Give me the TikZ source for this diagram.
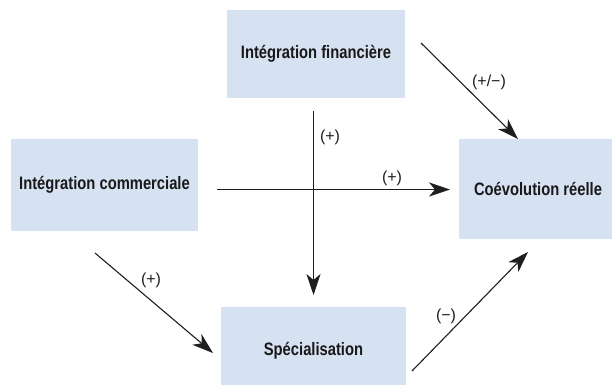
\documentclass[tikz,border=0pt]{standalone}
\usepackage{fontspec}
\setmainfont{Liberation Sans}
\newfontfamily\boxfont[FakeStretch=0.82]{Liberation Sans}
\newfontfamily\lblfont{Liberation Sans}
\usetikzlibrary{arrows.meta}
\definecolor{boxblue}{RGB}{214,226,242}
\definecolor{inkline}{RGB}{30,30,30}
\tikzset{
  boxnode/.style={fill=boxblue, draw=none, inner sep=0pt, font=\boxfont\fontsize{18}{21}\selectfont\bfseries, text=black!90},
  arr/.style={draw=inkline, line width=1.1pt, -{Stealth[length=21pt,width=14pt,inset=6pt]}},
  lbl/.style={font=\lblfont\fontsize{16}{19}\selectfont, text=inkline, inner sep=0pt}
}
\begin{document}
\begin{tikzpicture}[x=1pt,y=-1pt]
\useasboundingbox (0,0) rectangle (612,384);
\node[boxnode, minimum width=178pt, minimum height=88pt] (fin) at (316,54) {Intégration financière};
\node[boxnode, minimum width=187pt, minimum height=92pt] (com) at (104.5,185) {Intégration commerciale};
\node[boxnode, minimum width=158pt, minimum height=100pt] (coe) at (538,189) {Coévolution réelle};
\node[boxnode, minimum width=185pt, minimum height=88pt] (spe) at (313.5,351) {Spécialisation};
% connector end points
\coordinate (v1) at (313.5,111);
\coordinate (v2) at (313.5,295);
\coordinate (h1) at (217,189.5);
\coordinate (h2) at (450,189.5);
\coordinate (d1) at (421,43);
\coordinate (d2) at (518,139);
\coordinate (l1) at (95,253);
\coordinate (l2) at (213,353);
\coordinate (r1) at (412,371);
\coordinate (r2) at (528,252);
\draw[arr] (v1) -- (v2);
\draw[arr] (h1) -- (h2);
\draw[arr] (d1) -- (d2);
\draw[arr] (l1) -- (l2);
\draw[arr] (r1) -- (r2);
\node[lbl] (lv) at (330,137) {(+)};
\node[lbl] (lh) at (392,178) {(+)};
\node[lbl] (ld) at (489,82) {(+/−)};
\node[lbl] (ll) at (151,280) {(+)};
\node[lbl] (lr) at (446,316) {(−)};
\end{tikzpicture}
\end{document}
